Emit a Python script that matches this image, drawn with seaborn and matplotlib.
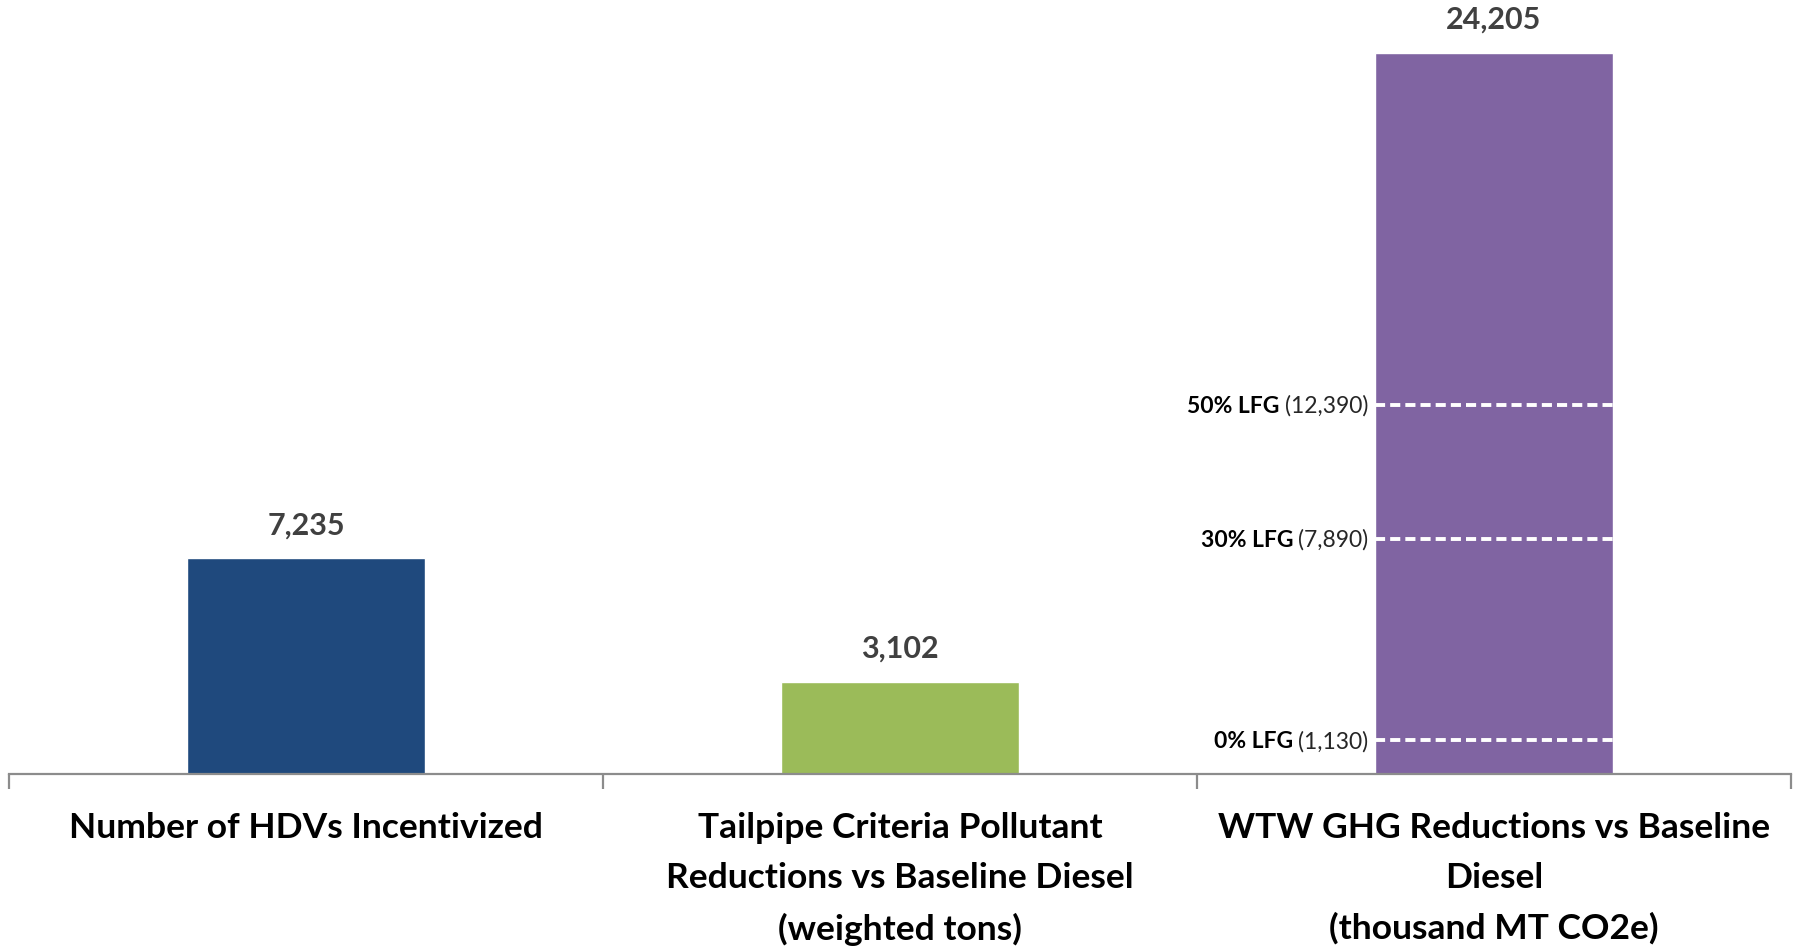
import numpy as np
import pandas as pd
import matplotlib
matplotlib.use("Agg")
import matplotlib.pyplot as plt
import matplotlib.transforms as mtransforms
import seaborn as sns

# chart data
categories = ["Number of HDVs Incentivized",
              "Tailpipe Criteria Pollutant\nReductions vs Baseline Diesel\n(weighted tons)",
              "WTW GHG Reductions vs Baseline\nDiesel\n(thousand MT CO2e)"]
values = [7235, 3102, 24205]
bar_colors = ["#1F497D", "#9BBB59", "#8064A2"]

# LFG scenario markers on the GHG bar
lfg_labels = ["50% LFG", "30% LFG", "0% LFG"]
lfg_values = [12390, 7890, 1130]

sns.set_style("white")
plt.rcParams["font.family"] = ["Lato", "DejaVu Sans"]

df = pd.DataFrame({"category": categories, "value": values})

fig = plt.figure(figsize=(18, 9.49), dpi=100)
ax = fig.add_axes([9/1800, 1-774/949, 1782/1800, 774/949])

sns.barplot(data=df, x="category", y="value", hue="category", palette=bar_colors,
            legend=False, width=0.4, saturation=1, ax=ax)

ax.set_xlim(-0.5, 2.5)
ax.set_ylim(0, 24205*774/721)

# value labels above bars
for i, v in enumerate(values):
    ax.annotate(f"{v:,}", xy=(i, v), xytext=(0, 24), textcoords="offset points",
                ha="center", va="center", fontsize=22, fontweight="bold", color="#404040")

# dashed lines inside the GHG bar
bar = ax.patches[2]
x0 = bar.get_x()
x1 = bar.get_x() + bar.get_width()
ax.hlines(lfg_values, x0, x1, colors="white", linewidth=2.8, linestyles=(0, (2.6, 1.3)))

fig.canvas.draw()
renderer = fig.canvas.get_renderer()
for lab, v in zip(lfg_labels, lfg_values):
    tr = mtransforms.offset_copy(ax.transData, fig=fig, x=-7, y=-8, units="dots")
    t = ax.text(x0, v, f"({v:,})", transform=tr, ha="right", va="baseline",
                fontsize=16.5, color="#262626")
    w = t.get_window_extent(renderer).width
    tr2 = mtransforms.offset_copy(ax.transData, fig=fig, x=-7-w-5, y=-8, units="dots")
    ax.text(x0, v, lab, transform=tr2, ha="right", va="baseline",
            fontsize=16.5, fontweight="bold", color="#000000")

# axis styling
for s in ["top", "left", "right"]:
    ax.spines[s].set_visible(False)
ax.spines["bottom"].set_color("#8c8c8c")
ax.spines["bottom"].set_linewidth(1.6)
ax.set_yticks([])
ax.set_xlabel("")
ax.set_ylabel("")
ax.set_xticks([0, 1, 2])
ax.set_xticklabels(categories, fontsize=25.5, fontweight="bold", color="#000000", linespacing=1.7)
ax.tick_params(axis="x", which="major", length=0, pad=27)
ax.set_xticks([-0.5, 0.5, 1.5, 2.5], minor=True)
ax.tick_params(axis="x", which="minor", length=10.5, width=1.6, color="#8c8c8c", direction="out", bottom=True)

fig.savefig("out.png", dpi=100)
